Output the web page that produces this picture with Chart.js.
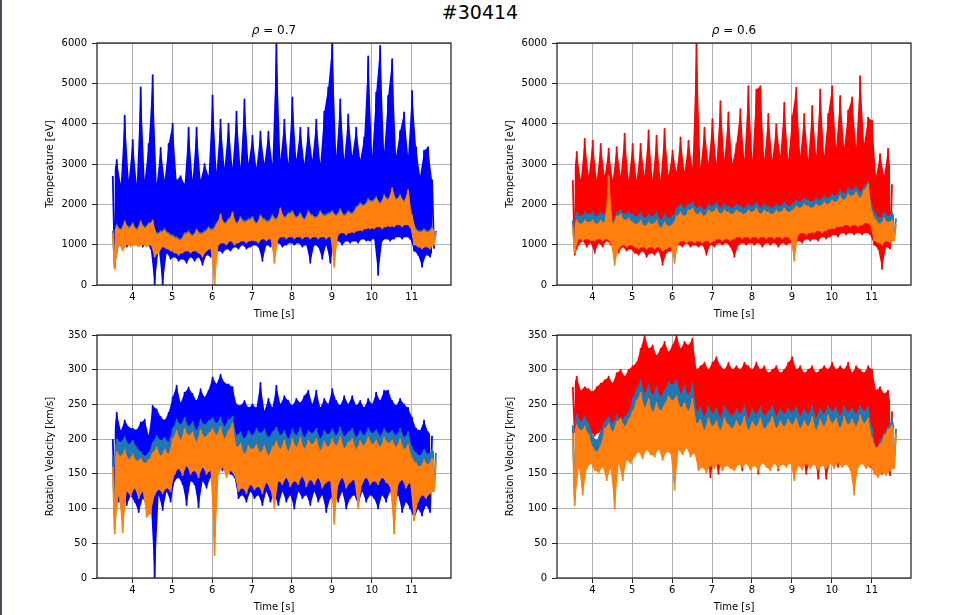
<!DOCTYPE html>
<html>
<head>
<meta charset="utf-8">
<script src="https://cdn.jsdelivr.net/npm/chart.js@4.4.1/dist/chart.umd.min.js"></script>
<style>
  body { margin: 0; background: #fff; }
  #page { position: relative; width: 960px; height: 615px; overflow: hidden; font-family: 'DejaVu Sans', sans-serif; }
  canvas { position: absolute; }
  .title { position: absolute; text-align: center; color: #000; white-space: nowrap; }
  #edge { position: absolute; left: 0; top: 0; width: 2px; height: 615px; background: #4b4b5e; }
</style>
</head>
<body>
<div id="page">
  <div id="edge"></div>
  <canvas id="tempRho07" width="461" height="288" style="left:0;top:32px"></canvas>
  <canvas id="tempRho06" width="461" height="288" style="left:460px;top:32px"></canvas>
  <canvas id="rotRho07" width="461" height="289" style="left:0;top:324px"></canvas>
  <canvas id="rotRho06" width="461" height="289" style="left:460px;top:324px"></canvas>
  <div class="title" style="left:380px;top:0;width:200px;font-size:19px;line-height:24px">#30414</div>
  <div class="title" style="left:174px;top:22px;width:200px;font-size:12px;line-height:16px"><i>ρ</i> = 0.7</div>
  <div class="title" style="left:634px;top:22px;width:200px;font-size:12px;line-height:16px"><i>ρ</i> = 0.6</div>
</div>
<script>
// sampling of the signals: first sample and step in seconds
const T0 = 3.51;
const DT = 0.05;

const timeTicks = [4, 5, 6, 7, 8, 9, 10, 11];
const tempTicks = [0, 1000, 2000, 3000, 4000, 5000, 6000];
const rotTicks = [0, 50, 100, 150, 200, 250, 300, 350];

// Temperature [eV], rho = 0.7
const temp07Blue = [
  2700, 450, 3100, 1000, 2500, 1100, 4200, 950, 2600, 1050,   // 3.5
  3600, 1000, 2500, 1100, 4900, 950, 2600, 1050, 3500, 900,   // 4.0
  5200, 0, 2500, 900, 3400, 0, 2600, 800, 3500, 650,          // 4.5
  4000, 700, 2600, 600, 2700, 650, 2500, 550, 3900, 700,      // 5.0
  2600, 600, 3900, 700, 2600, 500, 3000, 750, 2700, 700,      // 5.5
  4700, 800, 2800, 850, 4100, 800, 2900, 900, 4000, 850,      // 6.0
  2900, 950, 4300, 900, 2900, 1000, 4600, 900, 3000, 950,     // 6.5
  3700, 1000, 2900, 950, 3800, 600, 3000, 1000, 3800, 950,    // 7.0
  3000, 1000, 6000, 1050, 3100, 950, 4100, 1000, 3000, 1050,  // 7.5
  4650, 1000, 3100, 1050, 3900, 950, 3000, 1000, 3900, 550,   // 8.0
  3100, 1000, 4100, 950, 3000, 650, 4300, 1000, 4900, 550,    // 8.5
  6000, 1050, 3200, 1100, 4600, 1000, 3100, 1100, 4230, 1050, // 9.0
  3200, 1100, 3900, 1050, 3100, 1150, 3660, 1100, 5670, 1100, // 9.5
  3200, 1150, 4770, 250, 5930, 1100, 3300, 1150, 4690, 1100,  // 10.0
  5600, 1150, 3200, 1200, 3820, 1150, 4280, 1200, 3200, 1150, // 10.5
  4810, 850, 3420, 750, 2700, 450, 3330, 750, 3420, 700,      // 11.0
  2600, 900
];
const temp07Steel = [
  1340, 500, 1490, 1050, 1390, 900, 1590, 1050, 1440, 1000,
  1540, 1050, 1390, 1000, 1590, 1050, 1440, 1000, 1540, 1050,
  1560, 800, 1290, 850, 1340, 1000, 1390, 950, 1290, 900,
  1240, 850, 1190, 800, 1140, 850, 1290, 900, 1340, 850,
  1240, 900, 1390, 850, 1290, 800, 1340, 900, 1440, 950,
  1390, 500, 1540, 1050, 1720, 1100, 1540, 1050, 1640, 1150,
  1760, 1050, 1540, 1100, 1690, 1150, 1590, 1100, 1640, 1150,
  1690, 1150, 1540, 1100, 1740, 1200, 1640, 1150, 1590, 1200,
  1740, 900, 1640, 1200, 1860, 1250, 1690, 1200, 1790, 1250,
  1840, 1200, 1690, 1250, 1790, 1200, 1640, 1250, 1840, 1200,
  1740, 1250, 1690, 1200, 1840, 1250, 1740, 1200, 1790, 1250,
  1840, 900, 1740, 1300, 1890, 1350, 1740, 1300, 1840, 1350,
  1790, 1350, 1940, 1400, 2040, 1400, 1990, 1450, 2140, 1450,
  2090, 1450, 2190, 1500, 2040, 1450, 2240, 1500, 2140, 1500,
  2360, 1500, 2140, 1550, 2240, 1500, 2090, 1550, 2330, 1500,
  1740, 1050, 1390, 1000, 1340, 950, 1390, 1000, 1340, 950,
  1440, 1050, 1340
];
const temp07Orange = [
  1300, 400, 1450, 1000, 1350, 850, 1550, 1000, 1400, 950,
  1500, 1000, 1350, 950, 1550, 1000, 1400, 950, 1500, 1000,
  1600, 700, 1250, 800, 1300, 950, 1350, 900, 1250, 850,
  1200, 800, 1150, 750, 1100, 800, 1250, 850, 1300, 800,
  1200, 850, 1350, 800, 1250, 700, 1300, 850, 1400, 900,
  1350, 0, 1500, 1000, 1750, 1050, 1500, 1000, 1600, 1100,
  1800, 1000, 1500, 1050, 1650, 1100, 1550, 1050, 1600, 1100,
  1650, 1100, 1500, 1050, 1700, 1150, 1600, 1100, 1550, 1150,
  1700, 550, 1600, 1150, 1900, 1200, 1650, 1150, 1750, 1200,
  1800, 1150, 1650, 1200, 1750, 1150, 1600, 1200, 1800, 1150,
  1700, 1200, 1650, 1150, 1800, 1200, 1700, 1150, 1750, 1200,
  1800, 450, 1700, 1250, 1850, 1300, 1700, 1250, 1800, 1300,
  1750, 1300, 1900, 1350, 2000, 1350, 1950, 1400, 2100, 1400,
  2050, 1400, 2150, 1450, 2000, 1400, 2200, 1450, 2100, 1450,
  2400, 1450, 2100, 1500, 2200, 1450, 2050, 1500, 2350, 1450,
  1700, 1000, 1350, 950, 1300, 900, 1350, 950, 1300, 900,
  1400, 1000, 1300
];

// Temperature [eV], rho = 0.6
const temp06Red = [
  2600, 750, 3300, 1000, 2600, 1100, 3620, 950, 2700, 1050,   // 3.5
  3580, 800, 2600, 1050, 3500, 950, 2700, 1100, 3380, 1000,   // 4.0
  2600, 900, 3420, 800, 2700, 950, 3750, 850, 2600, 900,      // 4.5
  3500, 800, 2600, 750, 3500, 850, 2700, 700, 3830, 800,      // 5.0
  2600, 750, 3700, 850, 2600, 500, 3870, 800, 2700, 850,      // 5.5
  3330, 900, 2800, 1000, 3660, 950, 2800, 1050, 3580, 950,    // 6.0
  2900, 1000, 6000, 950, 2900, 1000, 3900, 750, 3000, 1000,   // 6.5
  4110, 950, 3000, 1050, 4560, 1000, 3100, 1050, 4280, 950,   // 7.0
  3000, 700, 3500, 1000, 4360, 1050, 3100, 1000, 4930, 1050,  // 7.5
  3100, 1000, 4850, 1050, 4930, 950, 3100, 1050, 4240, 1000,  // 8.0
  3100, 1050, 3990, 950, 3200, 1050, 4520, 1000, 3100, 1050,  // 8.5
  4200, 1000, 4890, 1100, 3200, 1050, 4240, 1150, 3100, 1100, // 9.0
  4440, 1150, 3200, 1100, 4850, 1200, 3200, 1150, 4240, 1200, // 9.5
  4930, 1250, 3400, 1200, 4690, 1300, 3400, 1250, 4320, 1300, // 10.0
  4650, 1250, 3400, 1300, 5180, 1250, 3500, 1300, 4150, 1250, // 10.5
  4070, 1000, 2700, 900, 3250, 400, 2700, 950, 3380, 900,     // 11.0
  2500
];
const temp06Steel = [
  1600, 900, 1800, 1200, 1700, 1150, 1800, 1200, 1750, 1150,
  1800, 1150, 1700, 1200, 1800, 1150, 1750, 1200, 1800, 1100,
  1550, 700, 1800, 1000, 1850, 1050, 1750, 1000, 1800, 1050,
  1750, 1000, 1700, 950, 1800, 1000, 1650, 950, 1750, 1000,
  1700, 950, 1800, 1000, 1600, 900, 1750, 950, 1650, 1000,
  1700, 800, 1900, 1100, 2000, 1150, 1900, 1100, 2000, 1150,
  2050, 1100, 1900, 1150, 1950, 1100, 1850, 1150, 2000, 1100,
  1950, 1150, 2050, 1200, 1900, 1150, 2000, 1200, 1950, 1150,
  1900, 1200, 2000, 1250, 1950, 1200, 1900, 1250, 2000, 1200,
  1950, 1250, 2050, 1200, 1900, 1250, 2000, 1200, 1950, 1250,
  1900, 1200, 2000, 1250, 1950, 1200, 2050, 1250, 1950, 1200,
  2000, 900, 2100, 1300, 2050, 1350, 2150, 1300, 2100, 1350,
  2050, 1350, 2150, 1400, 2100, 1350, 2200, 1400, 2150, 1450,
  2250, 1450, 2200, 1500, 2350, 1500, 2250, 1550, 2400, 1500,
  2350, 1550, 2450, 1500, 2300, 1550, 2450, 1600, 2550, 1550,
  1950, 1150, 1750, 1100, 1650, 1050, 1800, 1150, 1700, 1100,
  1800, 1150, 1650
];
const temp06Orange = [
  1450, 800, 1600, 1150, 1500, 1100, 1600, 1150, 1550, 1100,
  1600, 1100, 1500, 1150, 1600, 1100, 1550, 1150, 2700, 1050,
  1500, 500, 1700, 900, 1750, 1000, 1600, 950, 1650, 1000,
  1550, 950, 1500, 900, 1600, 950, 1450, 900, 1550, 950,
  1500, 900, 1600, 950, 1400, 850, 1550, 900, 1450, 950,
  1500, 550, 1700, 1050, 1800, 1100, 1700, 1050, 1850, 1100,
  1900, 1050, 1750, 1100, 1800, 1050, 1700, 1100, 1850, 1050,
  1800, 1100, 1900, 1150, 1750, 1100, 1850, 1150, 1800, 1100,
  1750, 1150, 1850, 1200, 1800, 1150, 1750, 1200, 1850, 1150,
  1800, 1200, 1900, 1150, 1750, 1200, 1850, 1150, 1800, 1200,
  1750, 1150, 1850, 1200, 1800, 1150, 1900, 1200, 1800, 1150,
  1850, 600, 1950, 1250, 1900, 1300, 2000, 1250, 1950, 1300,
  1900, 1300, 2000, 1350, 1950, 1300, 2050, 1350, 2000, 1400,
  2100, 1400, 2050, 1450, 2200, 1450, 2100, 1500, 2250, 1450,
  2200, 1500, 2300, 1450, 2150, 1500, 2350, 1550, 2500, 1500,
  1800, 1100, 1600, 1050, 1500, 1000, 1650, 1100, 1550, 1050,
  1600, 1100, 1500
];

// Rotation velocity [km/s], rho = 0.7
const rot07Blue = [
  200, 115, 238, 110, 212, 120, 227, 105, 217, 118,   // 3.5
  215, 110, 213, 95, 224, 115, 228, 105, 205, 112,    // 4.0
  248, 0, 243, 120, 232, 98, 227, 125, 238, 110,      // 4.5
  260, 140, 277, 145, 252, 135, 267, 105, 274, 140,   // 5.0
  265, 135, 255, 102, 272, 140, 260, 130, 270, 145,   // 5.5
  289, 150, 279, 165, 293, 155, 281, 170, 279, 150,   // 6.0
  275, 145, 250, 115, 248, 120, 255, 110, 245, 125,   // 6.5
  250, 115, 245, 120, 281, 105, 240, 125, 258, 110,   // 7.0
  245, 120, 277, 105, 250, 125, 262, 110, 255, 120,   // 7.5
  248, 100, 258, 125, 252, 115, 262, 120, 270, 105,   // 8.0
  250, 125, 270, 110, 245, 120, 258, 95, 250, 115,    // 8.5
  272, 120, 255, 110, 248, 125, 262, 100, 250, 115,   // 9.0
  262, 120, 248, 105, 255, 125, 245, 110, 258, 120,   // 9.5
  250, 115, 267, 100, 255, 120, 270, 110, 270, 125,   // 10.0
  255, 105, 248, 120, 258, 95, 250, 110, 245, 100,    // 10.5
  231, 85, 215, 100, 212, 90, 227, 105, 210, 95,      // 11.0
  205
];
const rot07Steel = [
  175, 80, 200, 125, 195, 110, 203, 130, 192, 125,
  198, 130, 188, 120, 182, 125, 175, 110, 180, 115,
  195, 120, 205, 135, 198, 125, 202, 135, 195, 130,
  215, 150, 228, 160, 220, 155, 231, 165, 218, 155,
  225, 160, 212, 150, 228, 165, 220, 155, 226, 160,
  230, 60, 222, 160, 231, 165, 218, 155, 228, 160,
  232, 155, 205, 135, 210, 140, 200, 130, 212, 140,
  205, 135, 215, 140, 208, 130, 214, 140, 202, 135,
  210, 115, 217, 145, 205, 140, 212, 145, 200, 135,
  214, 145, 205, 140, 216, 145, 202, 135, 212, 145,
  208, 140, 215, 145, 200, 135, 212, 140, 206, 145,
  214, 95, 205, 140, 217, 145, 203, 135, 210, 140,
  215, 145, 202, 115, 212, 140, 205, 145, 216, 140,
  208, 145, 213, 140, 204, 145, 215, 140, 208, 135,
  212, 80, 205, 140, 215, 145, 202, 135, 210, 140,
  188, 95, 180, 125, 176, 130, 185, 125, 178, 130,
  184, 130, 180
];
const rot07Orange = [
  160, 64, 182, 120, 175, 66, 184, 125, 170, 118,
  178, 130, 168, 115, 172, 125, 165, 88, 170, 93,
  180, 120, 188, 128, 175, 122, 185, 130, 178, 125,
  200, 150, 212, 158, 198, 148, 215, 162, 205, 150,
  210, 155, 195, 145, 213, 160, 202, 150, 208, 155,
  215, 33, 205, 150, 217, 160, 200, 145, 212, 155,
  222, 148, 188, 125, 193, 130, 178, 122, 190, 135,
  185, 128, 192, 132, 180, 122, 190, 138, 176, 128,
  188, 100, 196, 140, 185, 135, 198, 145, 182, 132,
  200, 140, 188, 135, 202, 148, 185, 132, 198, 142,
  192, 135, 200, 145, 183, 130, 196, 138, 188, 140,
  200, 78, 190, 135, 203, 145, 186, 130, 195, 138,
  200, 142, 185, 100, 197, 136, 190, 145, 203, 135,
  192, 140, 198, 135, 188, 145, 202, 138, 194, 132,
  198, 64, 188, 135, 200, 142, 185, 130, 192, 138,
  172, 83, 165, 110, 160, 120, 170, 115, 163, 122,
  172, 125, 168
];

// Rotation velocity [km/s], rho = 0.6
const rot06Red = [
  275, 210, 290, 215, 270, 205, 275, 220, 272, 210,   // 3.5
  268, 205, 275, 210, 280, 215, 285, 205, 290, 215,   // 4.0
  280, 215, 295, 220, 300, 215, 290, 225, 300, 220,   // 4.5
  305, 215, 310, 225, 330, 195, 350, 230, 330, 225,   // 5.0
  335, 230, 320, 225, 330, 235, 340, 225, 325, 230,   // 5.5
  335, 225, 350, 230, 330, 235, 340, 225, 335, 230,   // 6.0
  345, 220, 300, 175, 305, 160, 310, 180, 300, 145,   // 6.5
  310, 175, 318, 150, 305, 180, 300, 170, 310, 165,   // 7.0
  300, 178, 305, 170, 300, 155, 310, 180, 305, 168,   // 7.5
  300, 175, 310, 150, 300, 180, 305, 170, 295, 160,   // 8.0
  300, 178, 305, 155, 295, 175, 300, 165, 310, 172,   // 8.5
  318, 178, 300, 165, 305, 175, 295, 150, 300, 170,   // 9.0
  305, 175, 295, 143, 300, 178, 305, 143, 300, 170,   // 9.5
  310, 175, 300, 160, 305, 178, 300, 165, 310, 175,   // 10.0
  295, 150, 305, 178, 300, 165, 295, 175, 305, 160,   // 10.5
  300, 155, 270, 165, 275, 150, 265, 160, 270, 148,   // 11.0
  240
];
const rot06Steel = [
  220, 115, 235, 165, 225, 130, 232, 165, 222, 170,
  205, 165, 198, 160, 212, 170, 225, 155, 232, 165,
  222, 115, 235, 172, 225, 150, 232, 178, 238, 172,
  258, 185, 272, 192, 285, 182, 265, 195, 278, 190,
  262, 185, 275, 195, 260, 182, 270, 192, 282, 190,
  278, 140, 285, 192, 265, 186, 276, 195, 262, 188,
  280, 185, 240, 165, 246, 170, 232, 162, 248, 172,
  236, 168, 244, 172, 230, 165, 248, 170, 238, 168,
  233, 165, 243, 172, 236, 168, 248, 170, 230, 165,
  243, 170, 236, 165, 246, 172, 233, 168, 240, 165,
  248, 170, 233, 165, 243, 172, 236, 168, 244, 170,
  238, 150, 246, 170, 233, 165, 243, 172, 236, 168,
  248, 170, 230, 165, 244, 172, 236, 168, 248, 170,
  240, 165, 246, 172, 233, 168, 248, 170, 238, 165,
  244, 130, 236, 168, 248, 172, 240, 165, 246, 170,
  215, 160, 185, 155, 198, 160, 208, 155, 218, 162,
  228, 160, 215
];
const rot06Orange = [
  208, 105, 220, 160, 212, 120, 218, 158, 206, 165,
  188, 155, 181, 152, 191, 160, 215, 141, 222, 158,
  210, 100, 225, 165, 230, 141, 218, 170, 228, 165,
  240, 175, 255, 182, 267, 172, 245, 185, 258, 178,
  238, 175, 252, 186, 240, 170, 250, 182, 262, 180,
  255, 127, 262, 185, 245, 178, 252, 188, 240, 175,
  258, 180, 222, 155, 228, 160, 212, 152, 230, 162,
  218, 158, 226, 165, 212, 155, 230, 162, 220, 158,
  215, 155, 226, 164, 218, 160, 232, 165, 212, 156,
  225, 162, 218, 155, 230, 166, 214, 160, 222, 155,
  232, 165, 215, 158, 226, 164, 218, 160, 228, 166,
  220, 141, 230, 162, 215, 156, 226, 165, 218, 158,
  232, 164, 212, 156, 228, 162, 218, 158, 234, 165,
  222, 158, 230, 166, 215, 160, 232, 164, 220, 156,
  228, 120, 218, 160, 234, 165, 222, 158, 230, 162,
  201, 150, 187, 145, 192, 152, 205, 148, 214, 155,
  220, 158, 208
];

Chart.defaults.font.family = "'DejaVu Sans', sans-serif";
Chart.defaults.font.size = 10;
Chart.defaults.color = '#000';

// Frame round the plot area, drawn above the lines like the axes spines
const axesFrame = {
    id: 'axesFrame',
    afterDatasetsDraw: function (chart) {
        const ctx = chart.ctx;
        const a = chart.chartArea;
        ctx.save();
        ctx.strokeStyle = '#1a1a1a';
        ctx.lineWidth = 1.2;
        ctx.strokeRect(a.left, a.top, a.right - a.left, a.bottom - a.top);
        ctx.restore();
    }
};

function toPoints(values) {
    return values.map(function (v, i) {
        return { x: +(T0 + i * DT).toFixed(2), y: v };
    });
}

// Each signal alternates between its upper and lower excursions;
// the band between them is shaded, and the signal itself is stroked on top.
function signalDatasets(values, color, rank) {
    const pts = toPoints(values);
    const lows = pts.filter(function (p, i) { return i % 2 === 1; });
    const highs = pts.filter(function (p, i) { return i % 2 === 0; });
    const base = rank * 3;
    return [
        { data: lows, borderWidth: 0, pointRadius: 0, tension: 0, fill: false, order: base + 3 },
        { data: highs, borderWidth: 0, pointRadius: 0, tension: 0, fill: '-1', backgroundColor: color, order: base + 2 },
        { data: pts, borderColor: color, borderWidth: 1.8, borderJoinStyle: 'round', pointRadius: 0, tension: 0, fill: false, order: base + 1 }
    ];
}

function makePanel(canvasId, series, yTicks, yLabel) {
    let datasets = [];
    series.forEach(function (s, i) {
        datasets = datasets.concat(signalDatasets(s.values, s.color, series.length - 1 - i));
    });

    new Chart(document.getElementById(canvasId), {
        type: 'line',
        data: { datasets: datasets },
        options: {
            responsive: false,
            animation: false,
            devicePixelRatio: 1,
            layout: { padding: { top: 10, right: 10, bottom: 0, left: 0 } },
            plugins: {
                legend: { display: false },
                tooltip: { enabled: false }
            },
            scales: {
                x: {
                    type: 'linear',
                    min: 3.115,
                    max: 11.985,
                    afterBuildTicks: function (scale) {
                        scale.ticks = timeTicks.map(function (v) { return { value: v }; });
                    },
                    afterFit: function (scale) { scale.height = 35; },
                    grid: { color: '#b0b0b0', lineWidth: 1, tickColor: '#222', tickLength: 5 },
                    border: { display: false },
                    ticks: { padding: 1, maxRotation: 0, callback: function (v) { return String(v); } },
                    title: { display: true, text: 'Time [s]', padding: { top: 0, bottom: 0 } }
                },
                y: {
                    min: yTicks[0],
                    max: yTicks[yTicks.length - 1],
                    afterBuildTicks: function (scale) {
                        scale.ticks = yTicks.map(function (v) { return { value: v }; });
                    },
                    afterFit: function (scale) { scale.width = 97; },
                    grid: { color: '#b0b0b0', lineWidth: 1, tickColor: '#222', tickLength: 5 },
                    border: { display: false },
                    ticks: { padding: 5, callback: function (v) { return String(v); } },
                    title: { display: true, text: yLabel, padding: { top: 44, bottom: 0 } }
                }
            }
        },
        plugins: [axesFrame]
    });
}

makePanel('tempRho07', [
    { values: temp07Blue, color: '#0000ff' },
    { values: temp07Steel, color: '#1f77b4' },
    { values: temp07Orange, color: '#ff7f0e' }
], tempTicks, 'Temperature [eV]');

makePanel('tempRho06', [
    { values: temp06Red, color: '#ff0000' },
    { values: temp06Steel, color: '#1f77b4' },
    { values: temp06Orange, color: '#ff7f0e' }
], tempTicks, 'Temperature [eV]');

makePanel('rotRho07', [
    { values: rot07Blue, color: '#0000ff' },
    { values: rot07Steel, color: '#1f77b4' },
    { values: rot07Orange, color: '#ff7f0e' }
], rotTicks, 'Rotation Velocity [km/s]');

makePanel('rotRho06', [
    { values: rot06Red, color: '#ff0000' },
    { values: rot06Steel, color: '#1f77b4' },
    { values: rot06Orange, color: '#ff7f0e' }
], rotTicks, 'Rotation Velocity [km/s]');
</script>
</body>
</html>
